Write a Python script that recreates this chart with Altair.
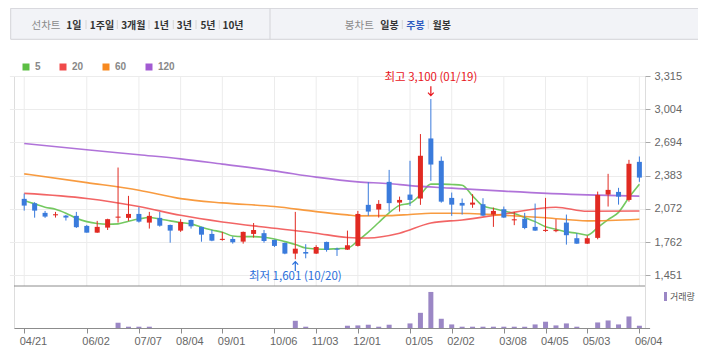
import altair as alt
import numpy as np
import pandas as pd

# ---------------- data ----------------
weeks = list(range(60))
open_ = [2166, 2125, 2035, 2012, 2009, 2007, 1913, 1850, 1897, 1990,
         1988, 2025, 1944, 1988, 1922, 1869, 1969, 1904, 1838, 1782,
         1791, 1766, 1838, 1845, 1782, 1754, 1654, 1669, 1654, 1763,
         1700, 1691, 1726, 2110, 2066, 2325, 2131, 2206, 2169, 2731,
         2522, 2175, 2128, 2112, 2116, 2019, 2069, 1965, 1981, 1904,
         1866, 1864, 1944, 1798, 1747, 1801, 2206, 2231, 2156, 2512]
high = [2215, 2135, 2053, 2044, 2016, 2044, 1922, 1960, 1980, 2459,
        2194, 2088, 2044, 2044, 1925, 1976, 1972, 1906, 1875, 1857,
        1813, 1860, 1940, 1875, 1785, 1756, 2044, 1742, 1732, 1766,
        1710, 1869, 2053, 2322, 2154, 2437, 2187, 2522, 2772, 3100,
        2562, 2225, 2169, 2210, 2172, 2084, 2094, 2044, 2035, 2122,
        2175, 1976, 2019, 1845, 1822, 2234, 2400, 2269, 2531, 2562]
low = [2056, 1990, 1988, 1991, 1963, 1894, 1850, 1848, 1875, 1944,
       1960, 1944, 1888, 1906, 1756, 1857, 1888, 1765, 1770, 1775,
       1747, 1747, 1803, 1756, 1716, 1648, 1601, 1610, 1650, 1672,
       1632, 1688, 1720, 2007, 1991, 2047, 2047, 2100, 2110, 2334,
       2130, 2007, 2019, 2082, 2005, 1904, 1988, 1920, 1882, 1866,
       1857, 1854, 1738, 1745, 1745, 1788, 2094, 2112, 2140, 2325]
close = [2103, 2056, 2000, 2022, 1991, 1901, 1850, 1904, 1976, 2000,
         2025, 1953, 2007, 1915, 1869, 1950, 1909, 1831, 1775, 1792,
         1760, 1857, 1875, 1772, 1726, 1654, 1700, 1654, 1716, 1688,
         1691, 1732, 2025, 2047, 2119, 2126, 2156, 2156, 2569, 2487,
         2140, 2112, 2103, 2131, 2009, 2053, 1991, 1975, 1894, 1869,
         1876, 1874, 1826, 1747, 1798, 2203, 2250, 2187, 2494, 2365]
volume = [0, 0, 0, 0, 0, 0, 0, 0, 0, 146000,
          36000, 36000, 36000, 0, 0, 0, 0, 0, 0, 0,
          0, 0, 0, 0, 0, 0, 200000, 36000, 0, 0,
          0, 63000, 72000, 91000, 36000, 91000, 0, 127000, 421000, 1000000,
          256000, 99000, 36000, 36000, 36000, 36000, 36000, 36000, 36000, 99000,
          174000, 72000, 127000, 36000, 0, 154000, 209000, 99000, 320000, 63000]

tick_idx = [0, 6, 11, 15, 19, 24, 28, 32, 37, 41, 46, 50, 54, 59]
tick_labels = ["04/21", "06/02", "07/07", "08/04", "09/01", "10/06", "11/03",
               "12/01", "01/05", "02/02", "03/08", "04/05", "05/03", "06/04"]
price_ticks = [1451, 1762, 2072, 2383, 2694, 3004, 3315]

ma_names = ["5", "20", "60", "120"]
ma5_idx = list(range(60))
ma5_val = [2150, 2119, 2088, 2069, 2032, 1985, 1953, 1935, 1929, 1932,
           1957, 1978, 1991, 1978, 1960, 1944, 1932, 1901, 1875, 1854,
           1819, 1813, 1813, 1807, 1791, 1766, 1740, 1706, 1697, 1695,
           1700, 1704, 1775, 1855, 1945, 2035, 2105, 2125, 2205, 2304,
           2304, 2300, 2294, 2194, 2100, 2075, 2053, 2028, 1991, 1953,
           1906, 1882, 1857, 1845, 1826, 1897, 1972, 2040, 2178, 2302]
ma20_idx = [0, 6, 11, 15, 19, 24, 28, 31, 33, 36, 39, 42, 46, 51, 54, 59]
ma20_val = [2217, 2170, 2094, 2012, 1950, 1891, 1845, 1805, 1800, 1845, 1940, 1969, 2025, 2088, 2050, 2052]
ma60_idx = [0, 6, 11, 15, 19, 24, 28, 31, 32, 35, 37, 39, 41, 46, 50, 54, 59]
ma60_val = [2400, 2318, 2247, 2168, 2128, 2094, 2047, 2016, 2007, 2009, 2020, 2032, 2032, 2013, 1990, 1960, 1976]
ma120_idx = [0, 6, 11, 15, 19, 24, 28, 32, 35, 37, 41, 46, 54, 59]
ma120_val = [2684, 2625, 2578, 2540, 2491, 2428, 2369, 2325, 2309, 2290, 2266, 2238, 2203, 2191]

hi_idx, hi_val, hi_date = 39, 3100, "01/19"
lo_idx, lo_val, lo_date = 26, 1601, "10/20"

line_group_label = "선차트"
period_labels = ["1일", "1주일", "3개월", "1년", "3년", "5년", "10년"]
candle_group_label = "봉차트"
candle_labels = ["일봉", "주봉", "월봉"]
selected_label = "주봉"
volume_label = "거래량"

# ---------------- style / layout ----------------
UP, DOWN, VOL = "#e12a22", "#3a7bdc", "#9b87c5"
MA_COLORS = ["#5cbf44", "#f04a4a", "#f7891f", "#a25bd2"]
GRID = "#ececec"
W, H, PH = 631, 252, 210          # plot width, full height, price panel height
FONT_K = "Noto Sans CJK KR"
FONT_L = "Liberation Sans"

# 10.593 px per week; first week at x=5.3 inside the plot
x_scale = alt.Scale(domain=[-0.5, 59.5], range=[0.0, 635.6], nice=False, zero=False)
p_scale = alt.Scale(domain=[1351, 3315], range=[PH, 0], nice=False, zero=False)
v_scale = alt.Scale(domain=[0, 1165000], range=[H, PH], nice=False)

label_expr = ("[" + ",".join(f"'{l}'" for l in tick_labels) + "][indexof(["
              + ",".join(str(i) for i in tick_idx) + "], datum.value)]")
x_axis = alt.Axis(values=tick_idx, labelExpr=label_expr, title=None, grid=False,
                  domainColor="#8c8c8c", tickColor="#8c8c8c", tickSize=5,
                  labelAlign="left", labelBaseline="top", labelPadding=2, labelOffset=-5,
                  labelColor="#666666", labelFont=FONT_L, labelFontSize=11,
                  labelFlush=False, labelOverlap=False, labelBound=False)
price_axis = alt.Axis(orient="right", values=price_ticks, format=",d", title=None,
                      grid=True, gridColor=GRID, domain=False, tickColor="#aaaaaa",
                      tickSize=5, labelPadding=4, labelColor="#666666",
                      labelFont=FONT_L, labelFontSize=11)


def X(field="idx"):
    return alt.X(f"{field}:Q", scale=x_scale, axis=x_axis)


def Y(field):
    return alt.Y(f"{field}:Q", scale=p_scale, axis=price_axis)


candles = pd.DataFrame({"idx": weeks, "open": open_, "high": high, "low": low, "close": close})
candles["dir"] = np.where(candles["close"] >= candles["open"], "up", "down")
dir_scale = alt.Scale(domain=["up", "down"], range=[UP, DOWN])

one = pd.DataFrame({"v": [0]})

# vertical grid (price panel only)
vgrid = alt.Chart(pd.DataFrame({"idx": tick_idx})).mark_rule(color=GRID, strokeWidth=1).encode(
    x=X(), y=alt.value(0), y2=alt.value(PH))

wick = alt.Chart(candles).mark_rule(strokeWidth=1).encode(
    x=X(), y=Y("low"), y2="high:Q",
    stroke=alt.Stroke("dir:N", scale=dir_scale, legend=None))

body = alt.Chart(candles).mark_bar(size=5).encode(
    x=X(), y=Y("open"), y2="close:Q",
    fill=alt.Fill("dir:N", scale=dir_scale, legend=None))

ma_df = pd.concat([
    pd.DataFrame({"idx": ma5_idx, "val": ma5_val, "ma": "5"}),
    pd.DataFrame({"idx": ma20_idx, "val": ma20_val, "ma": "20"}),
    pd.DataFrame({"idx": ma60_idx, "val": ma60_val, "ma": "60"}),
    pd.DataFrame({"idx": ma120_idx, "val": ma120_val, "ma": "120"}),
])
ma_legend = alt.Legend(title=None, orient="none", legendX=7, legendY=-14, direction="horizontal",
                       gridAlign="none",
                       symbolType="square", symbolSize=1, symbolStrokeWidth=6, symbolOpacity=1,
                       labelFont=FONT_L, labelFontSize=10, labelFontWeight="bold",
                       labelColor="#888888", labelOffset=4, columnPadding=9, padding=0)
lines = alt.Chart(ma_df).mark_line(interpolate="monotone", strokeWidth=1.6, opacity=0.85).encode(
    x=X(), y=Y("val"),
    color=alt.Color("ma:N", scale=alt.Scale(domain=ma_names, range=MA_COLORS), legend=ma_legend),
    order="idx:Q")

# high / low annotations
hi_df = pd.DataFrame({"idx": [hi_idx], "val": [hi_val], "txt": [f"최고 {hi_val:,} ({hi_date})"]})
lo_df = pd.DataFrame({"idx": [lo_idx], "val": [lo_val], "txt": [f"최저 {lo_val:,} ({lo_date})"]})
ARROW_DOWN = "M0,-1L0,1M-0.6,0.35L0,1L0.6,0.35"
ARROW_UP = "M0,1L0,-1M-0.6,-0.35L0,-1L0.6,-0.35"


def ann(df, color, dy_text, arrow, dy_arrow):
    t = alt.Chart(df).mark_text(color=color, font=FONT_K, fontSize=11.5, dy=dy_text,
                                align="center", baseline="middle").encode(
        x=X(), y=Y("val"), text="txt:N")
    a = alt.Chart(df).mark_point(shape=arrow, size=90, filled=False, stroke=color,
                                 strokeWidth=1.2, opacity=1, yOffset=dy_arrow).encode(
        x=X(), y=Y("val"))
    return [t, a]


annos = ann(hi_df, "#e8141b", -21, ARROW_DOWN, -8) + ann(lo_df, "#2a6fdb", 18, ARROW_UP, 7)

# price panel bottom border
pbottom = alt.Chart(one).mark_rule(color="#8c8c8c", strokeWidth=1).encode(
    x=alt.value(0), x2=alt.value(W), y=alt.value(PH))

# header bar
hy, hy2 = 8.3 - 76, 39.3 - 76
hmid = 25.5 - 76
header = [alt.Chart(one).mark_rect(fill="#f2f3f7", stroke="#d3d3d8", strokeWidth=1).encode(
    x=alt.value(10.7 - 14), x2=alt.value(700 - 14), y=alt.value(hy), y2=alt.value(hy2)),
    alt.Chart(one).mark_rule(color="#d3d3d8").encode(
    x=alt.value(270 - 14), y=alt.value(hy), y2=alt.value(hy2))]
left_centers = [73.8, 102, 133.3, 161.3, 184.3, 208, 233]
left_seps = [86, 117.3, 149, 173.3, 196, 219.3]
right_centers = [389.5, 415.5, 441.7]
right_seps = [402.3, 428.3]
for lab, cx in [(line_group_label, 46), (candle_group_label, 359.3)]:
    header.append(alt.Chart(one).mark_text(text=lab, font=FONT_K, fontSize=10.5, color="#8a8a8a",
                                           align="center", baseline="middle").encode(
        x=alt.value(cx - 14), y=alt.value(hmid)))
for lab, cx in list(zip(period_labels, left_centers)) + list(zip(candle_labels, right_centers)):
    col = "#2f5cc0" if lab == selected_label else "#333333"
    header.append(alt.Chart(one).mark_text(text=lab, font=FONT_K, fontSize=10, fontWeight="bold",
                                           color=col, align="center", baseline="middle").encode(
        x=alt.value(cx - 14), y=alt.value(hmid)))
for sx in left_seps + right_seps:
    header.append(alt.Chart(one).mark_rule(color="#d6d6d6").encode(
        x=alt.value(sx - 14), y=alt.value(20 - 76), y2=alt.value(29 - 76)))

price_layer = alt.layer(vgrid, pbottom, lines, wick, body, *annos, *header)

# volume panel
vol_df = pd.DataFrame({"idx": weeks, "vol": volume, "kind": volume_label})
vol_legend = alt.Legend(title=None, orient="none", legendX=647, legendY=216,
                        symbolType="M-0.33,-1H0.33V1H-0.33Z", symbolSize=81, symbolStrokeWidth=0,
                        symbolOpacity=1, labelFont=FONT_K, labelFontSize=9, labelColor="#555555",
                        labelOffset=0, padding=0)
vol = alt.Chart(vol_df).mark_bar(size=5).encode(
    x=X(),
    y=alt.Y("vol:Q", scale=v_scale, axis=None),
    color=alt.Color("kind:N", scale=alt.Scale(range=[VOL]), legend=vol_legend))

chart = alt.layer(price_layer, vol).resolve_scale(
    y="independent", color="independent").properties(
    width=W, height=H,
    autosize=alt.AutoSizeParams(type="none"),
    padding={"left": 6, "top": 68, "right": 53, "bottom": 19},
).configure_view(stroke=None).configure(background="white")

chart.save("out.html", embed_options={"renderer": "svg", "actions": False})
